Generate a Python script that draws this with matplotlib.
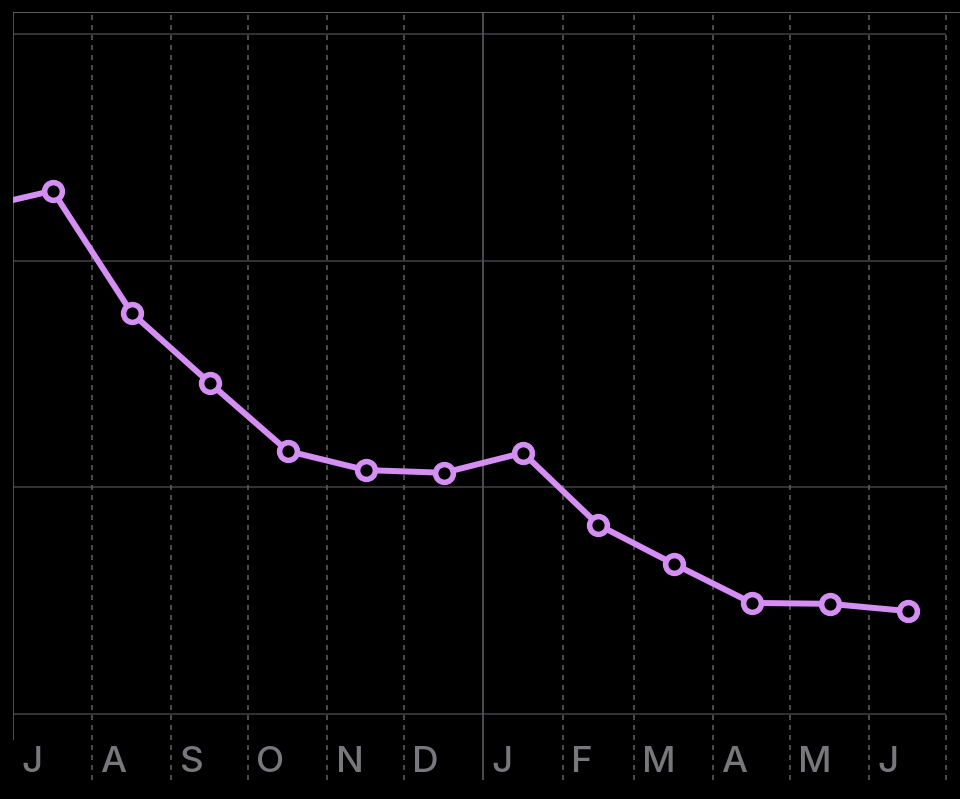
import matplotlib.pyplot as plt
import numpy as np

# month lengths, Jul .. Jun
month_days = [31, 31, 30, 31, 30, 31, 31, 28, 31, 30, 31, 30]
month_letters = ["J", "A", "S", "O", "N", "D", "J", "F", "M", "A", "M", "J"]

# monthly values (previous June first, then Jul .. Jun)
values = [111.4, 115.4, 88.4, 73.0, 58.0, 53.8, 53.2, 57.6, 41.7, 33.1, 24.5, 24.3, 22.7]

grid_values = [0, 50, 100, 150]

LINE_COLOR = "#d48ef4"
TEXT_COLOR = "#77777c"
GRID_COLOR = "#3d3d40"
DASH_COLOR = "#5a5a5e"

starts = np.concatenate([[0], np.cumsum(month_days)])
mids = starts[:-1] + np.array(month_days) / 2.0
x_pts = np.concatenate([[-15.0], mids])

fig = plt.figure(figsize=(9.6, 7.99), dpi=100, facecolor="black")
ax = fig.add_axes([13 / 960, 19 / 799, 947 / 960, 768 / 799])
ax.set_facecolor("black")

px_per_day = 933 / 365.0
ax.set_xlim(0, 947 / px_per_day)
y_bottom = (714 - 780) / 226.7 * 50
y_top = (714 - 12) / 226.7 * 50
ax.set_ylim(y_bottom, y_top)

for s in ax.spines.values():
    s.set_visible(False)
ax.set_xticks([])
ax.set_yticks([])

# horizontal grid
ax.hlines(grid_values, 0, starts[-1], color=GRID_COLOR, lw=1.2, zorder=1)
ax.axhline(y_top, color="#5e5e62", lw=1.4, zorder=1)

# left edge
ax.vlines(0, (714 - 740) / 226.7 * 50, y_top, color="#5e5e62", lw=1.2, zorder=1)

# month boundaries
year_break = starts[6]
for b in starts[1:]:
    if b == year_break:
        ax.vlines(b, y_bottom, y_top, color=DASH_COLOR, lw=1.2, zorder=1)
    else:
        ax.vlines(b, y_bottom, y_top, color=DASH_COLOR, lw=1.2,
                  linestyles=(0, (3, 3)), zorder=1)

# month letters
label_y = (714 - 762) / 226.7 * 50
for s, letter in zip(starts[:-1], month_letters):
    ax.text(s + 3.2, label_y, letter, ha="left", va="center", fontsize=26.5,
            fontweight="medium", color=TEXT_COLOR, family=["Inter", "DejaVu Sans"])

ax.plot(x_pts, values, color=LINE_COLOR, lw=4.3, marker="o", ms=12.8,
        mfc="black", mec=LINE_COLOR, mew=4.0, zorder=3)

fig.savefig("out.png", dpi=100, facecolor="black")
